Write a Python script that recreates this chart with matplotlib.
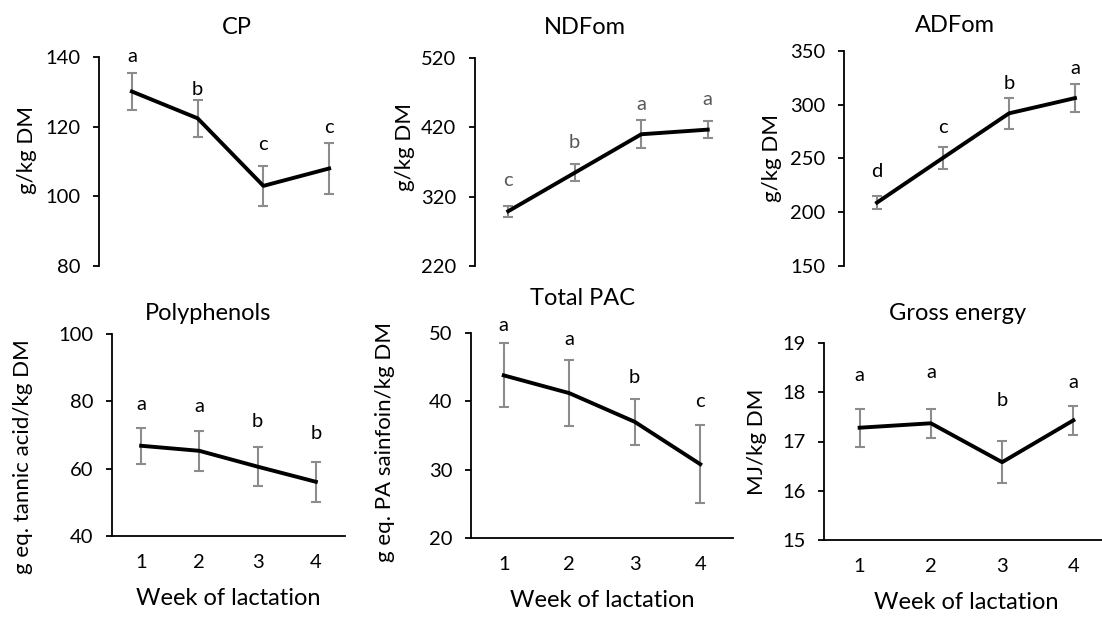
import numpy as np
import matplotlib
matplotlib.use('Agg')
from matplotlib import pyplot as plt

plt.rcParams['font.family'] = ['Lato', 'DejaVu Sans']

weeks = [1, 2, 3, 4]

cp = [130.1, 122.4, 103.0, 108.0]
cp_err = [5.4, 5.3, 5.7, 7.3]
cp_lab = ['a', 'b', 'c', 'c']
cp_lab_y = [140.1, 130.8, 115.0, 119.7]

ndf = [299, 354.5, 410, 416.7]
ndf_err = [8, 12, 20, 12]
ndf_lab = ['c', 'b', 'a', 'a']
ndf_lab_y = [343.5, 398.4, 453, 459.6]

adf = [209, 250.6, 292, 306.2]
adf_err = [6, 10, 14.6, 13]
adf_lab = ['d', 'c', 'b', 'a']
adf_lab_y = [237.6, 278.6, 320, 334]

poly = [66.8, 65.3, 60.6, 56.1]
poly_err = [5.4, 6.0, 5.8, 6.0]
poly_lab = ['a', 'a', 'b', 'b']
poly_lab_y = [79, 78.5, 74, 70.5]

pac = [43.8, 41.2, 37.0, 30.8]
pac_err = [4.7, 4.8, 3.4, 5.7]
pac_lab = ['a', 'a', 'b', 'c']
pac_lab_y = [51.1, 49.1, 43.5, 40.0]

ge = [17.28, 17.37, 16.58, 17.43]
ge_err = [0.39, 0.30, 0.43, 0.30]
ge_lab = ['a', 'a', 'b', 'a']
ge_lab_y = [18.33, 18.41, 17.84, 18.19]

W, H = 1102, 620
fig = plt.figure(figsize=(W / 100, H / 100), dpi=100)


def box(l, r, t, b):
    return [l / W, 1 - b / H, (r - l) / W, (b - t) / H]


panels = [
    dict(title="CP", vals=cp, err=cp_err, lab=cp_lab, lab_y=cp_lab_y,
         ylim=(80, 140), yticks=[80, 100, 120, 140], ylabel="g/kg DM",
         pos=box(99, 362, 57, 266), tpos=(237, 27), ypos=(27, 150),
         labcol='black', bottom=False),
    dict(title="NDFom", vals=ndf, err=ndf_err, lab=ndf_lab, lab_y=ndf_lab_y,
         ylim=(220, 520), yticks=[220, 320, 420, 520], ylabel="g/kg DM",
         pos=box(475, 741, 58, 266), tpos=(585, 27), ypos=(405, 147),
         labcol='#595959', bottom=False),
    dict(title="ADFom", vals=adf, err=adf_err, lab=adf_lab, lab_y=adf_lab_y,
         ylim=(150, 350), yticks=[150, 200, 250, 300, 350], ylabel="g/kg DM",
         pos=box(844, 1108, 51, 266), tpos=(955, 25), ypos=(772, 158),
         labcol='black', bottom=False),
    dict(title="Polyphenols", vals=poly, err=poly_err, lab=poly_lab, lab_y=poly_lab_y,
         ylim=(40, 100), yticks=[40, 60, 80, 100], ylabel="g eq. tannic acid/kg DM",
         pos=box(112, 345, 334, 536), tpos=(208, 313), ypos=(23, 457),
         labcol='black', bottom=True),
    dict(title="Total PAC", vals=pac, err=pac_err, lab=pac_lab, lab_y=pac_lab_y,
         ylim=(20, 50), yticks=[20, 30, 40, 50], ylabel="g eq. PA sainfoin/kg DM",
         pos=box(471, 733, 333, 538), tpos=(583, 298), ypos=(385, 442),
         labcol='black', bottom=True),
    dict(title="Gross energy", vals=ge, err=ge_err, lab=ge_lab, lab_y=ge_lab_y,
         ylim=(15, 19), yticks=[15, 16, 17, 18, 19], ylabel="MJ/kg DM",
         pos=box(824, 1109, 343, 540), tpos=(958, 313), ypos=(757, 442),
         labcol='black', bottom=True),
]

for p in panels:
    ax = fig.add_axes(p['pos'])
    ax.errorbar(weeks, p['vals'], yerr=p['err'], color='black', lw=2.8,
                ecolor='#8c8c8c', elinewidth=1.5, capsize=3.6, capthick=1.5,
                zorder=3)
    for x, t, ty in zip(weeks, p['lab'], p['lab_y']):
        ax.text(x, ty, t, ha='center', va='center', fontsize=14.5,
                color=p['labcol'])
    ax.set_xlim(0.5, 4.5)
    ax.set_ylim(*p['ylim'])
    ax.set_yticks(p['yticks'])
    ax.tick_params(axis='y', labelsize=14.5, length=4.5, width=1.3, pad=9)
    for s in ['top', 'right']:
        ax.spines[s].set_visible(False)
    ax.spines['left'].set_linewidth(1.3)
    if p['bottom']:
        ax.spines['bottom'].set_linewidth(1.3)
        ax.set_xticks(weeks)
        ax.tick_params(axis='x', labelsize=14.5, length=0, pad=13)
        ax.set_xlabel("Week of lactation", fontsize=17, labelpad=12)
    else:
        ax.spines['bottom'].set_visible(False)
        ax.set_xticks([])
    fig.text(p['tpos'][0] / W, 1 - p['tpos'][1] / H, p['title'],
             ha='center', va='center', fontsize=17)
    fig.text(p['ypos'][0] / W, 1 - p['ypos'][1] / H, p['ylabel'],
             ha='center', va='center', rotation=90, fontsize=16)

plt.savefig("out.png", dpi=100)
